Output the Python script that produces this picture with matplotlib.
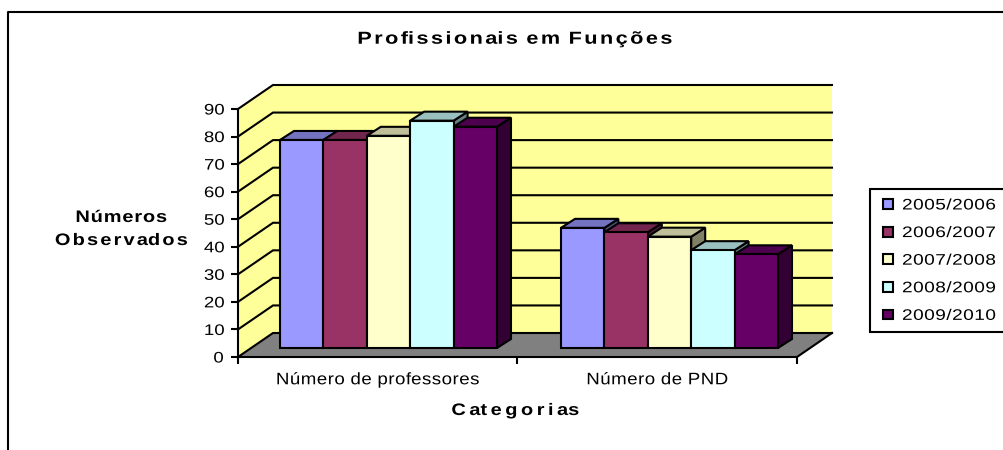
import numpy as np
import matplotlib
matplotlib.use("Agg")
import matplotlib.pyplot as plt
from matplotlib.lines import Line2D
from matplotlib.path import Path
from matplotlib.patheffects import AbstractPathEffect
from matplotlib.patches import Patch
from matplotlib.legend_handler import HandlerPatch

categories = ["Número de professores", "Número de PND"]
periods = ["2005/2006", "2006/2007", "2007/2008", "2008/2009", "2009/2010"]
professores = [75.5, 75.5, 77.0, 82.5, 80.3]
pnd = [43.6, 42.0, 40.4, 35.5, 34.0]
series = [[a, b] for a, b in zip(professores, pnd)]
colors = ["#9999FF", "#993366", "#FFFFCC", "#CCFFFF", "#660066"]
title = "Profissionais em Funções"
ylabel = "Números\nObservados"
xlabel = "Categorias"
yticks = list(range(0, 100, 10))

W, H = 1004, 450
X0, X1, Y0, Y90 = 238, 797, 357, 109
PX = (X1 - X0) / 2          # px per category
PY = (Y0 - Y90) / 90        # px per value unit
DX, DY = 35 / PX, 24 / PY   # wall depth
BOX, BOY = 13 / PX, 9 / PY  # bar plane offset
BDX, BDY = 14 / PX, 9 / PY  # bar depth
GAP = 29 / PX
STEP = 281 / PX
BW = 43.4 / PX
LW = 1.5
plt.rcParams["font.family"] = ["Liberation Sans", "DejaVu Sans"]


class Spread(AbstractPathEffect):
    """Widen text about its centre: glyph stretch plus letter spacing (em).
    by_count gives (glyph, gap) for a line with that many glyphs."""
    def __init__(self, glyph=1.0, gap=0.0, by_count=None):
        self.glyph, self.gap, self.by_count = glyph, gap, by_count or {}

    def draw_path(self, renderer, gc, tpath, affine, rgbFace=None):
        v = np.array(tpath.vertices, float)
        c = np.array(tpath.codes)
        st = np.flatnonzero(c == Path.MOVETO)
        if len(st) == 0:
            return
        en = np.append(st[1:], len(c))
        cont = sorted(zip(st, en), key=lambda p: v[p[0]:p[1], 0].min())
        groups, right = [], None
        for s, e in cont:
            lo, hi = v[s:e, 0].min(), v[s:e, 0].max()
            if right is None or lo >= right:
                groups.append([(s, e)])
                right = hi
            else:
                groups[-1].append((s, e))
                right = max(right, hi)
        glyph, gap = self.by_count.get(len(groups), (self.glyph, self.gap))
        a, b = v[:, 0].min(), v[:, 0].max()
        for i, g in enumerate(groups):
            for s, e in g:
                v[s:e, 0] = v[s:e, 0] * glyph + i * gap * 100
        v[:, 0] += (a + b) / 2 - (v[:, 0].min() + v[:, 0].max()) / 2
        renderer.draw_path(gc, Path(v, c), affine, rgbFace)


def shade(col, k):
    r = np.array(matplotlib.colors.to_rgb(col)) * k
    return tuple(r)


fig = plt.figure(figsize=(W / 100, H / 100), dpi=100, facecolor="white")
ax = fig.add_axes([X0 / W, 1 - Y0 / H, (X1 - X0) / W, (Y0 - Y90) / H])
ax.set_xlim(0, 2)
ax.set_ylim(0, 90)
ax.patch.set_visible(False)
for s in ("top", "right"):
    ax.spines[s].set_visible(False)
for s in ("left", "bottom"):
    ax.spines[s].set_linewidth(LW)
    ax.spines[s].set_zorder(6)

# outer frame, running off the picture
fig.add_artist(Line2D([8.5 / W, 8.5 / W, 1], [0, 1 - 11.5 / H, 1 - 11.5 / H],
                      color="black", lw=1.5, transform=fig.transFigure))

# walls and floor
ax.fill([0, DX, DX, 0], [0, DY, 90 + DY, 90], color="#FFFF99", lw=0, clip_on=False, zorder=1)
ax.fill([DX, 2 + DX, 2 + DX, DX], [DY, DY, 90 + DY, 90 + DY], color="#FFFF99", lw=0, clip_on=False, zorder=1)
ax.fill([0, 2, 2 + DX, DX], [0, 0, DY, DY], color="#808080", lw=0, clip_on=False, zorder=2)
ax.plot([2, 2 + DX], [0, DY], color="black", lw=LW, clip_on=False, zorder=3)
for v in yticks:
    ax.plot([0, DX, 2 + DX], [v, v + DY, v + DY], color="black", lw=LW,
            clip_on=False, zorder=3, solid_joinstyle="miter")

# bars
z = 4
for c in range(len(categories)):
    for i, (vals, col) in enumerate(zip(series, colors)):
        val = vals[c]
        x = c * STEP + GAP + BOX + i * BW
        t = BOY + val
        ax.fill([x + BW, x + BW + BDX, x + BW + BDX, x + BW],
                [BOY, BOY + BDY, t + BDY, t], facecolor=shade(col, 0.5),
                edgecolor="black", lw=LW, clip_on=False, zorder=z)
        ax.fill([x, x + BDX, x + BW + BDX, x + BW], [t, t + BDY, t + BDY, t],
                facecolor=shade(col, 0.75), edgecolor="black", lw=LW, clip_on=False, zorder=z)
        ax.bar(x, val, width=BW, bottom=BOY, align="edge", facecolor=col,
               edgecolor="black", lw=LW, clip_on=False, zorder=z + 0.5)
        z += 0.01

# axes text
ax.set_yticks(yticks)
ax.set_xticks([0, 1, 2])
ax.set_xticklabels([])
ax.set_xticks([0.5, 1.5], minor=True)
ax.set_xticklabels(categories, minor=True, fontsize=12, path_effects=[Spread(1.12, 0.03)])
ax.tick_params(axis="x", which="major", length=5, width=LW)
ax.tick_params(axis="x", which="minor", length=0, pad=11)
ax.tick_params(axis="y", length=5, width=LW, pad=6, labelsize=11)
for t in ax.get_yticklabels():
    t.set_path_effects([Spread(1.22, 0.0)])

cx = (515 - X0) / (X1 - X0)
ax.set_title(title, x=cx, y=1, pad=47, fontsize=12.5, fontweight="bold",
             path_effects=[Spread(1.25, 0.14)])
ax.set_xlabel(xlabel, fontsize=12, fontweight="bold", path_effects=[Spread(1.2, 0.21)])
ax.xaxis.set_label_coords(cx, -(403 - Y0) / (Y0 - Y90))
ax.set_ylabel(ylabel, rotation=0, ha="center", va="center", fontsize=12, fontweight="bold",
              linespacing=1.67,
              path_effects=[Spread(1.2, 0.13, by_count={7: (1.2, 0.05)})])
ax.yaxis.set_label_coords((121 - X0) / (X1 - X0), (Y0 - 229) / (Y0 - Y90))

# legend
handles = [Patch(facecolor=c, edgecolor="black", lw=LW) for c in colors]
leg = fig.legend(handles, periods, loc="upper left", mode="expand",
                 bbox_to_anchor=(870 / W, 1 - 332 / H, 150 / W, 143 / H),
                 fontsize=11, frameon=True, fancybox=False, edgecolor="black", framealpha=1,
                 borderpad=0.62, borderaxespad=0, labelspacing=0.89,
                 handlelength=0.88, handleheight=0.62, handletextpad=1.3,
                 handler_map={Patch: HandlerPatch(xpad=0.26)})
leg.get_frame().set_linewidth(LW)
for t in leg.get_texts():
    t.set_path_effects([Spread(1.25, 0.03)])

fig.savefig("out.png", dpi=100, facecolor="white")
